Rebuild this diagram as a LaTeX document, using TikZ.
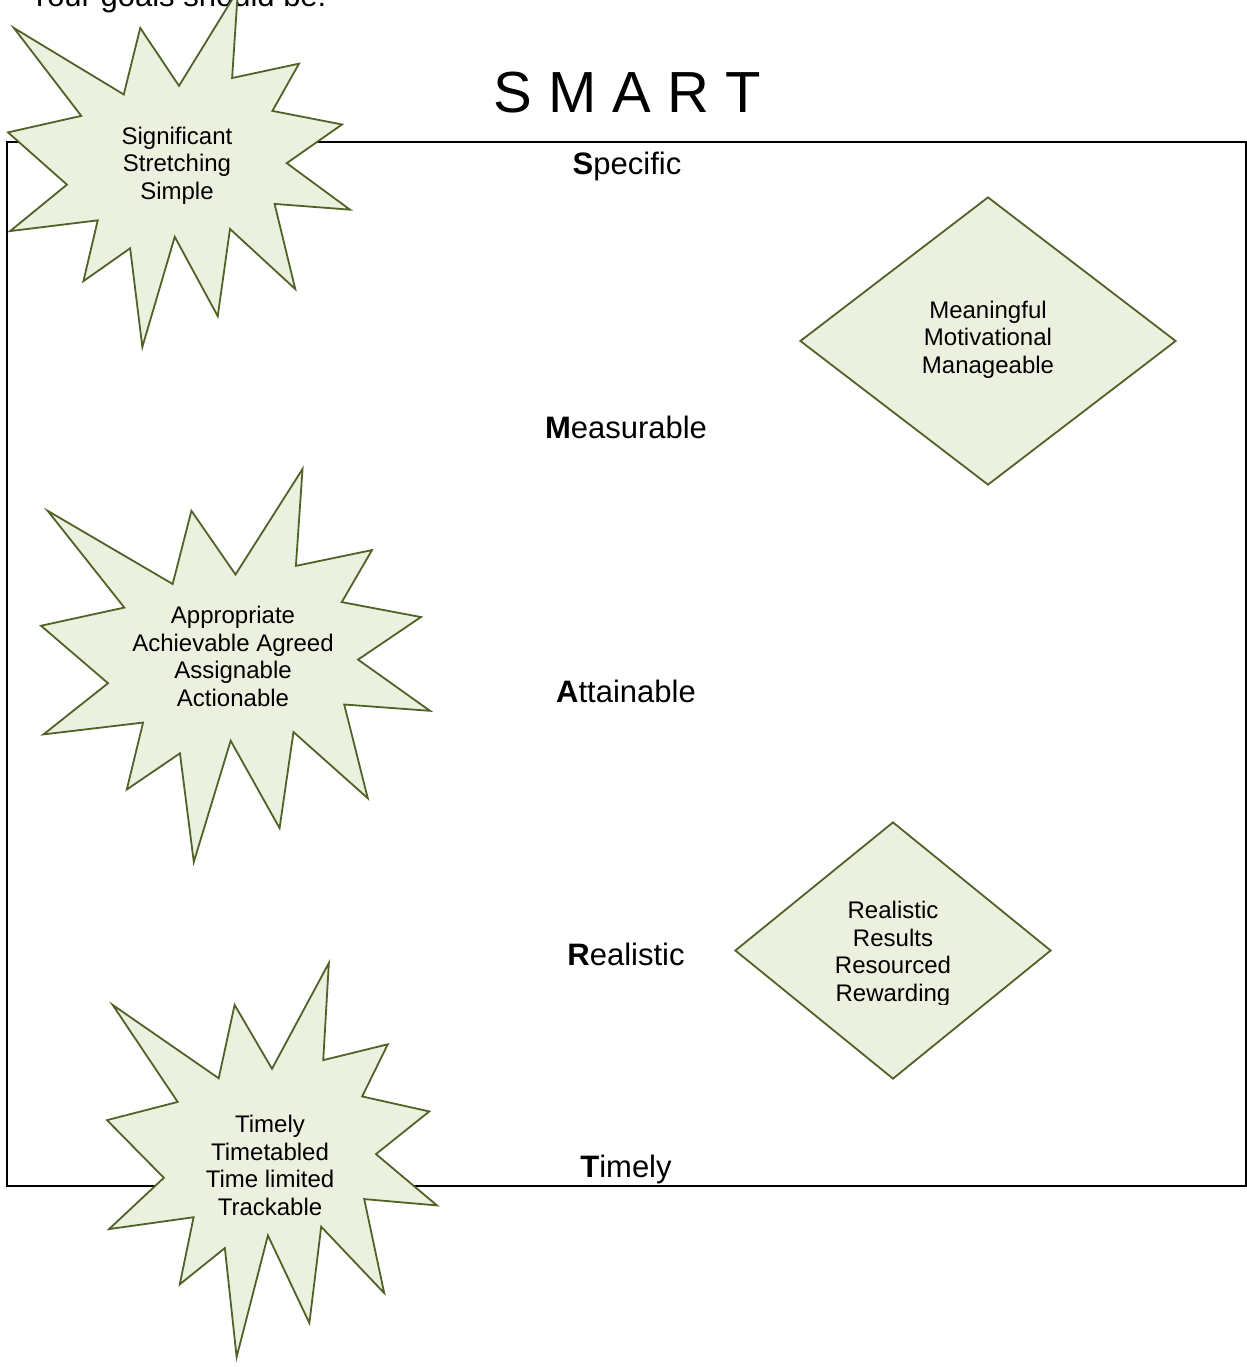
\documentclass[tikz,border=0pt]{standalone}
\usepackage{fontspec}
\setmainfont{Liberation Sans}
\usetikzlibrary{shapes.geometric}

\definecolor{burstfill}{HTML}{EBF1DE}
\definecolor{burstline}{HTML}{4F6228}

\tikzset{
    burst/.style={draw=burstline, fill=burstfill, line width=0.9pt},
    goal/.style={diamond, draw=burstline, fill=burstfill, line width=0.9pt, inner sep=0pt},
    word/.style={font=\fontsize{12pt}{13.75pt}\selectfont, align=center, inner sep=0pt, anchor=base},
    letter/.style={font=\fontsize{15.5pt}{18pt}\selectfont, inner sep=0pt, anchor=base},
}

% explosion outline in a box: left, top, width, height
\newcommand{\burstshape}[4]{%
    \begin{scope}[shift={(#1,#2)}, x=#3*0.5pt, y=-#4*0.5pt]
        \draw[burst] (.5,.2685) -- (.6723,0) -- (.6553,.2465) -- (.8509,.2063) -- (.7732,.3387)
            -- (.9767,.3767) -- (.8151,.4850) -- (1,.6153) -- (.7795,.5992) -- (.8400,.8377)
            -- (.6491,.6693) -- (.6133,.9138) -- (.4876,.6914) -- (.3928,1) -- (.3572,.7235)
            -- (.2205,.8156) -- (.2624,.6452) -- (.0063,.6753) -- (.1723,.5451) -- (0,.3988)
            -- (.2142,.3526) -- (.0171,.1063) -- (.3385,.2926) -- (.3867,.1063) -- cycle;
    \end{scope}}

\begin{document}
\begin{tikzpicture}[x=0.5pt, y=-0.5pt]
    \useasboundingbox (0,0) rectangle (1247,1367);
    \clip (0,0) rectangle (1247,1367);

    \node[letter, anchor=base west] (intro) at (29,6.5) {Your goals should be:};
    \node[inner sep=0pt, anchor=base, font=\fontsize{29pt}{35pt}\selectfont] (smart) at (627,112) {S M A R T};
    \draw[line width=1pt] (7,142) rectangle (1246,1186);

    \node[letter] (spec) at (627,174) {{\bfseries S}pecific};
    \node[letter] (meas) at (626,438) {{\bfseries M}easurable};
    \node[letter] (attn) at (626,702) {{\bfseries A}ttainable};
    \node[letter] (real) at (626,965) {{\bfseries R}ealistic};
    \node[letter] (tmly) at (626,1177) {{\bfseries T}imely};

    % text anchors sit on the last line
    \burstshape{8}{-10}{342}{357}
    \node[word] (sss) at (177,199) {Significant\\Stretching\\Simple};
    \burstshape{41}{469}{389}{393}
    \node[word] (aaa) at (233,706) {Appropriate\\Achievable Agreed\\Assignable\\Actionable};
    \burstshape{107}{963}{330}{394}
    \node[word] (ttt) at (270,1215) {Timely\\Timetabled\\Time limited\\Trackable};

    \node[goal, minimum width=188pt, minimum height=144pt] (mmmbox) at (988,341) {};
    \node[word] (mmm) at (988,373) {Meaningful\\Motivational\\Manageable};

    \node[goal, minimum width=158pt, minimum height=128.5pt] (rrrbox) at (893,950.5) {};
    \begin{scope}
        \clip (735,822) rectangle (1051,1004);
        \node[word] (rrr) at (893,1001) {Realistic\\Results\\Resourced\\Rewarding};
    \end{scope}
\end{tikzpicture}
\end{document}
